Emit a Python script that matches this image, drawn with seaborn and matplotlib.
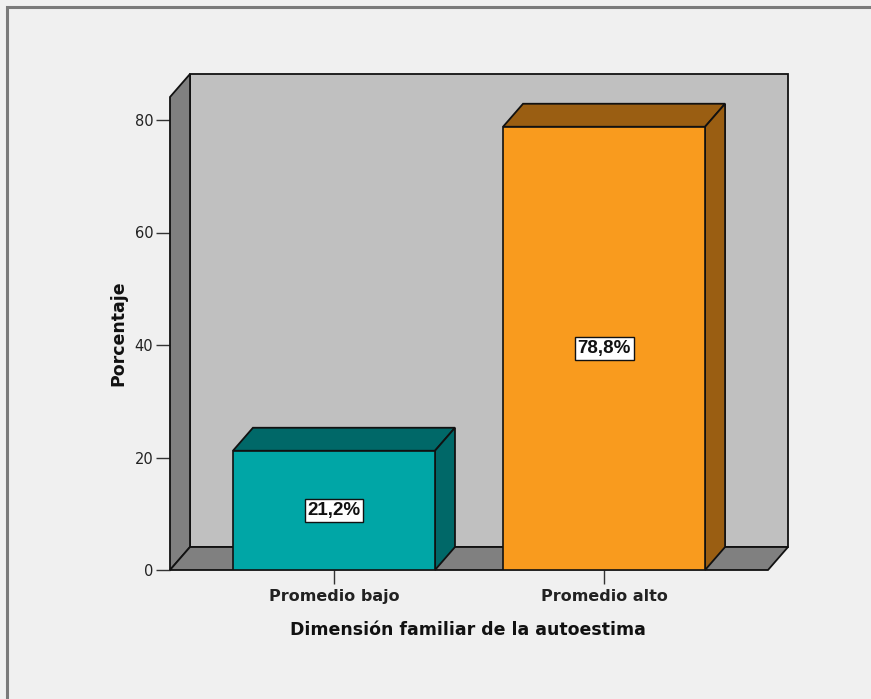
import numpy as np
import pandas as pd
import seaborn as sns
import matplotlib.pyplot as plt
from matplotlib.patches import Polygon, Rectangle

categorias = ['Promedio bajo', 'Promedio alto']
porcentajes = [21.2, 78.8]
colores_frente = ['#00a6a6', '#f99b1e']
colores_lado = ['#006868', '#9a5e12']
ticks_y = [0, 20, 40, 60, 80]
titulo_x = 'Dimensión familiar de la autoestima'
titulo_y = 'Porcentaje'

data = pd.DataFrame({'cat': categorias, 'pct': porcentajes})

sns.set_style('white')
plt.rcParams['font.family'] = ['DejaVu Sans']

W, H = 871, 699
fig = plt.figure(figsize=(W / 100, H / 100), dpi=100, facecolor='#f0f0f0')
# marco gris (solo arriba e izquierda visibles)
fig.patches.append(Rectangle((7 / W, -0.1), 1.2, 1 - 7 / H + 0.1, transform=fig.transFigure,
                             fill=False, ec='#7a7a7a', lw=2.2, zorder=0))

x0, x1 = 170, 768
y0, y1 = 570, 97
ax = fig.add_axes([x0 / W, 1 - y0 / H, (x1 - x0) / W, (y0 - y1) / H])
ax.set_facecolor('none')

sns.barplot(data, x='cat', y='pct', hue='cat', palette=colores_frente, legend=False,
            width=0.748, ax=ax, edgecolor='#111111', linewidth=1.2, saturation=1, zorder=5)

xmin, xmax = -0.607, 1.607
ymax = (y0 - y1) / 5.625
ax.set_xlim(xmin, xmax)
ax.set_ylim(0, ymax)

# profundidad del efecto 3D (en unidades de datos)
dx = 20 / 270
dy = 23 / 5.625

kw = dict(ec='#111111', lw=1.3, clip_on=False, joinstyle='miter')
# pared del fondo, lateral y suelo
ax.add_patch(Polygon([(xmin + dx, dy), (xmax + dx, dy), (xmax + dx, ymax + dy), (xmin + dx, ymax + dy)],
                     fc='#c0c0c0', zorder=1, **kw))
ax.add_patch(Polygon([(xmin, 0), (xmin + dx, dy), (xmin + dx, ymax + dy), (xmin, ymax)],
                     fc='#808080', zorder=2, **kw))
ax.add_patch(Polygon([(xmin, 0), (xmax, 0), (xmax + dx, dy), (xmin + dx, dy)],
                     fc='#808080', zorder=2, **kw))

for bar, lado in zip(ax.patches[:len(categorias)], colores_lado):
    bx, bw, bh = bar.get_x(), bar.get_width(), bar.get_height()
    ax.add_patch(Polygon([(bx, bh), (bx + bw, bh), (bx + bw + dx, bh + dy), (bx + dx, bh + dy)],
                         fc=lado, zorder=4, **kw))
    ax.add_patch(Polygon([(bx + bw, 0), (bx + bw + dx, dy), (bx + bw + dx, bh + dy), (bx + bw, bh)],
                         fc=lado, zorder=4, **kw))
    etiqueta = f'{bh:.1f}'.replace('.', ',') + '%'
    ax.text(bx + bw / 2, bh / 2, etiqueta, ha='center', va='center', fontsize=13.5,
            fontweight='bold', family=['Liberation Sans', 'DejaVu Sans'], color='#111111',
            zorder=7, bbox=dict(boxstyle='square,pad=0.15', fc='white', ec='#111111', lw=1))

for s in ax.spines.values():
    s.set_visible(False)

ax.set_yticks(ticks_y)
ax.tick_params(axis='y', length=10, width=1, color='#333333', pad=2, labelsize=10.5,
               labelcolor='#222222', left=True)
ax.tick_params(axis='x', length=10, width=1, color='#333333', pad=4, labelsize=11.5,
               labelcolor='#222222', bottom=True)
for t in ax.get_xticklabels():
    t.set_fontweight('bold')

ax.set_xlabel(titulo_x, fontsize=12.5, fontweight='bold', color='#111111')
ax.set_ylabel(titulo_y, fontsize=12.5, fontweight='bold', color='#111111')
ax.xaxis.set_label_coords(0.498, -0.108)
ax.yaxis.set_label_coords(-0.072, 0.50)

fig.savefig('out.png', dpi=100, facecolor=fig.get_facecolor())
